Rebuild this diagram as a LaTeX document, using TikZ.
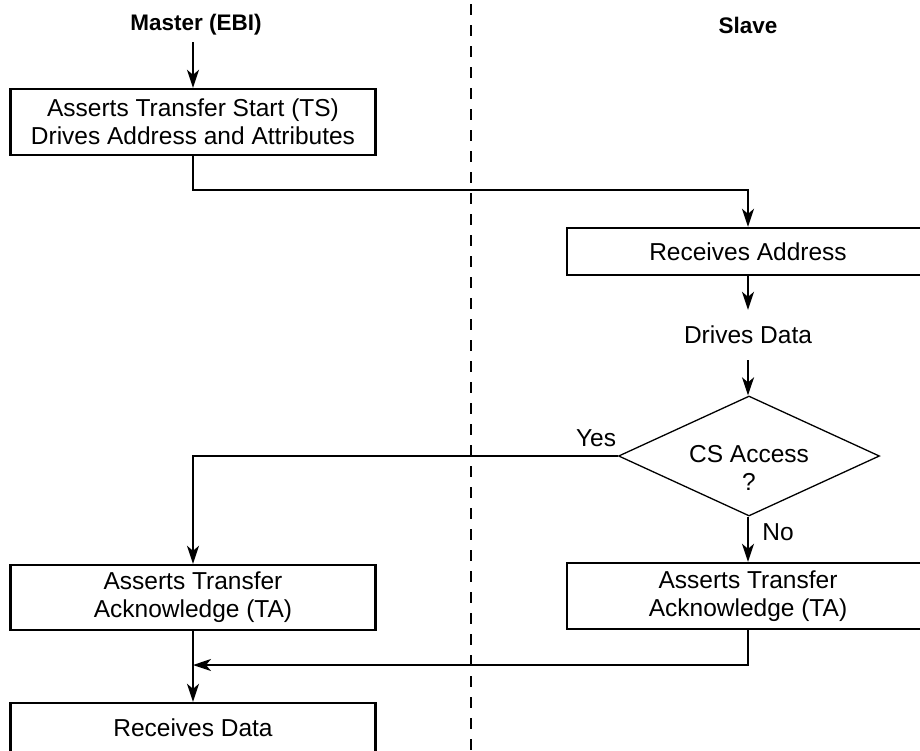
\documentclass[tikz,border=0pt]{standalone}
\usepackage{fontspec}
\setmainfont{Liberation Sans}
\usetikzlibrary{shapes.geometric,arrows.meta}
\begin{document}
\begin{tikzpicture}[x=1pt,y=-1pt,
  txt/.style={font=\fontsize{24.5}{28}\selectfont, align=center, inner sep=0pt},
  title/.style={font=\fontsize{22.5}{28}\selectfont\bfseries, inner sep=6pt},
  box/.style={txt, draw, line width=2.4pt},
  arr/.style={line width=2pt, -{Stealth[length=18pt,width=12pt,inset=5pt]}},
  conn/.style={line width=2pt}]
\useasboundingbox (0,0) rectangle (920,750);
\clip (0,0) rectangle (920,750);
\fill[white] (0,0) rectangle (920,750);
% swimlane divider
\draw[line width=2.2pt, dash pattern=on 11pt off 10pt] (471,4) -- (471,760);
% titles
\node[title] (mt) at (196,25) {Master (EBI)};
\node[title] (sl) at (748,25) {Slave};
\coordinate (t1) at (193,42);
% boxes
\node[box, minimum width=365pt, minimum height=66pt] (b1) at (193,122) {Asserts Transfer Start (TS)\\Drives Address and Attributes};
\node[box, minimum width=362pt, minimum height=47pt] (b2) at (748,251.5) {Receives Address};
\node[txt, minimum height=50pt] (dd) at (748,335) {Drives Data};
\node[draw, line width=1.3pt, diamond, shape aspect=2.2, inner sep=0pt, minimum width=261pt, minimum height=120pt] (d) at (749,456) {};
\node[txt] (dt) at (749,468) {CS Access\\?};
\node[box, minimum width=365pt, minimum height=65pt] (b3) at (193,597.5) {Asserts Transfer\\Acknowledge (TA)};
\node[box, minimum width=362pt, minimum height=66pt] (b4) at (748,596) {Asserts Transfer\\Acknowledge (TA)};
\node[box, minimum width=365pt, minimum height=50pt] (b5) at (193,728) {Receives Data};
% labels
\node[txt] (yes) at (596,438) {Yes};
\node[txt] (no) at (778,532) {No};
% coordinates
\coordinate (c1) at (748,190);
\coordinate (j) at (193,665);
% connectors
\draw[arr] (t1) -- (b1.north);
\draw[arr] (b1.south) |- (c1) -- (b2.north);
\draw[arr] (b2.south) -- (dd.north);
\draw[arr] (dd.south) -- (d.north -| dd.south);
\draw[arr] (d.west) -| (b3.north);
\draw[arr] (d.south -| b4.north) -- (b4.north);
\draw[arr] (b4.south) |- (j);
\draw[arr] (b3.south) -- (b5.north);
\end{tikzpicture}
\end{document}
